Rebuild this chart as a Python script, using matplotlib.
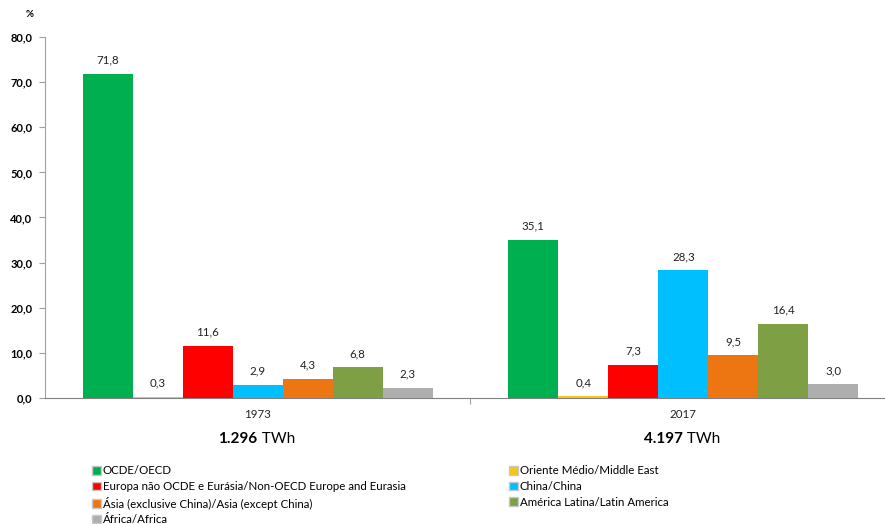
import matplotlib.pyplot as plt
import numpy as np
from matplotlib.patches import Patch

plt.rcParams['font.family'] = ['Lato', 'DejaVu Sans']

years = ['1973', '2017']
totals = ['1.296', '4.197']
regions = ['OCDE/OECD', 'Oriente Médio/Middle East',
           'Europa não OCDE e Eurásia/Non-OECD Europe and Eurasia', 'China/China',
           'Ásia (exclusive China)/Asia (except China)', 'América Latina/Latin America',
           'África/Africa']
share_1973 = [71.8, 0.3, 11.6, 2.9, 4.3, 6.8, 2.3]
share_2017 = [35.1, 0.4, 7.3, 28.3, 9.5, 16.4, 3.0]
colors = ['#00B050', '#F5C518', '#FF0000', '#00BFFF', '#EE7612', '#7F9F45', '#AEAEAE']


def fmt(v):
    return f"{v:.1f}".replace('.', ',')


fig = plt.figure(figsize=(8.85, 5.24), dpi=100)
ax = fig.add_axes([0.0506, 0.2405, 0.962, 0.6889])

values = np.array([share_1973, share_2017])
x = np.arange(len(years))
w = 0.1175
for i, region in enumerate(regions):
    pos = x + (i - 3) * w
    bars = ax.bar(pos, values[:, i], width=w, color=colors[i], label=region, zorder=3)
    for b, v in zip(bars, values[:, i]):
        ax.text(b.get_x() + w / 2, v + 1.8, fmt(v), ha='center', va='bottom',
                fontsize=8.3, color='#222222')

ax.set_xlim(-0.5, 1.5)
ax.set_ylim(0, 80)
ax.set_yticks(np.arange(0, 81, 10))
ax.set_yticklabels([fmt(t) for t in range(0, 81, 10)], fontweight='bold', fontsize=8)
ax.tick_params(axis='y', length=4, color='#A0A0A0', pad=5)
ax.set_xticks([0.5])
ax.set_xticklabels([''])
ax.tick_params(axis='x', length=4, color='#A0A0A0', direction='out')
for s in ['top', 'right']:
    ax.spines[s].set_visible(False)
ax.spines['left'].set_color('#A0A0A0')
ax.spines['bottom'].set_color('#808080')

for xi, yr, tot in zip(x, years, totals):
    ax.text(xi, -3.6, yr, ha='center', va='center', fontsize=8.3, color='#222222')
    ax.annotate(tot, (xi, -9.0), xycoords='data', ha='right', va='center',
                fontsize=11, fontweight='bold', annotation_clip=False)
    ax.annotate(' TWh', (xi, -9.0), xycoords='data', ha='left', va='center',
                fontsize=11, annotation_clip=False)

fig.text(0.034, 0.972, '%', fontsize=7, fontweight='bold', ha='center', va='center')

order = [0, 2, 4, 6, 1, 3, 5]
handles = [Patch(facecolor=colors[i], edgecolor='#C8C8C8', label=regions[i]) for i in order]
fig.legend(handles=handles, loc='upper left', bbox_to_anchor=(0.098, 0.123), ncol=2,
           frameon=False, fontsize=8.3, handlelength=0.75, handleheight=0.75,
           handletextpad=0.15, labelspacing=0.4, columnspacing=9.0, borderpad=0)

fig.savefig('out.png', dpi=100)
